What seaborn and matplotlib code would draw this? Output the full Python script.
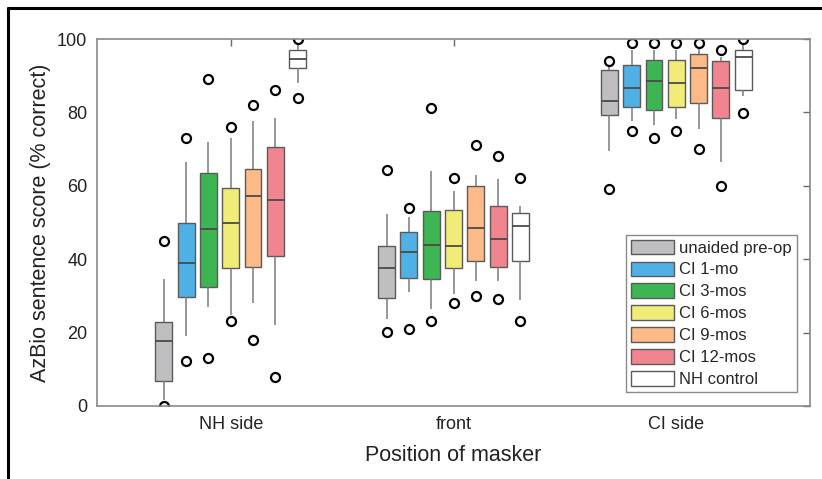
import numpy as np
import pandas as pd
import seaborn as sns
import matplotlib
matplotlib.use("Agg")
import matplotlib.pyplot as plt
from matplotlib.lines import Line2D

# ---------------- data ----------------
positions = ["NH side", "front", "CI side"]
groups = ["unaided pre-op", "CI 1-mo", "CI 3-mos", "CI 6-mos", "CI 9-mos", "CI 12-mos", "NH control"]
colors = ["#bfbfc1", "#4fb0e6", "#3db553", "#f1ec78", "#fbba88", "#f08590", "#ffffff"]

# per position, per group (order as in `groups`)
low_outlier = {
    "NH side": [0.0, 12.2, 13.0, 23.1, 18.0, 8.0, 84.0],
    "front":   [20.1, 21.0, 23.2, 28.1, 30.0, 29.1, 23.2],
    "CI side": [59.0, 75.0, 73.0, 75.0, 70.0, 60.0, 79.9],
}
whisker_low = {
    "NH side": [1.5, 19.2, 27.1, 24.8, 28.0, 22.1, 88.1],
    "front":   [23.6, 31.0, 26.5, 30.6, 34.1, 34.1, 29.0],
    "CI side": [69.6, 77.6, 76.6, 78.1, 75.5, 66.5, 84.6],
}
q1 = {
    "NH side": [6.7, 29.6, 32.5, 37.6, 37.9, 41.0, 92.0],
    "front":   [29.5, 35.0, 34.5, 37.6, 39.5, 38.0, 39.4],
    "CI side": [79.4, 81.5, 80.6, 81.4, 82.5, 78.5, 86.1],
}
median = {
    "NH side": [17.6, 39.0, 48.1, 50.0, 57.1, 56.0, 94.5],
    "front":   [37.6, 42.0, 44.0, 43.6, 48.6, 45.6, 49.1],
    "CI side": [83.1, 86.6, 88.5, 88.0, 92.0, 86.6, 95.2],
}
q3 = {
    "NH side": [23.0, 49.9, 63.5, 59.4, 64.5, 70.5, 97.0],
    "front":   [43.6, 47.5, 53.0, 53.5, 60.0, 54.5, 52.5],
    "CI side": [91.5, 93.0, 94.4, 94.4, 95.9, 93.9, 97.0],
}
whisker_high = {
    "NH side": [34.5, 66.4, 71.9, 72.9, 77.6, 78.5, 98.6],
    "front":   [52.4, 51.4, 64.0, 58.5, 62.9, 61.9, 54.5],
    "CI side": [92.3, 97.0, 97.0, 97.0, 97.2, 95.2, 98.6],
}
high_outlier = {
    "NH side": [45.0, 73.0, 89.0, 76.0, 82.1, 86.0, 100.0],
    "front":   [64.2, 53.9, 81.1, 62.0, 71.0, 68.0, 62.0],
    "CI side": [94.1, 99.0, 99.0, 99.0, 99.0, 97.0, 100.0],
}

# Build a minimal sample per box whose percentile statistics reproduce the
# read-off values (quartiles at 25/50/75, whiskers at 10/90 percentile,
# extremes drawn as circles).
rows = []
for p in positions:
    for i, g in enumerate(groups):
        sample = [low_outlier[p][i], whisker_low[p][i], q1[p][i], q1[p][i],
                  median[p][i], q3[p][i], q3[p][i], whisker_high[p][i],
                  high_outlier[p][i]]
        for v in sample:
            rows.append({"position": p, "group": g, "score": v})
df = pd.DataFrame(rows)

# ---------------- plotting ----------------
sns.set_theme(style="white")
plt.rcParams["font.family"] = ["Liberation Sans", "DejaVu Sans"]
plt.rcParams["axes.edgecolor"] = "#8a8a8a"
plt.rcParams["axes.linewidth"] = 1.2

fig = plt.figure(figsize=(8.22, 4.79), dpi=100)
ax = fig.add_axes([97 / 822, 1 - 406 / 479, (810 - 97) / 822, (406 - 39) / 479])

sns.boxplot(
    data=df, x="position", y="score", hue="group",
    order=positions, hue_order=groups, palette=colors,
    whis=(10, 90), width=0.7, gap=0.24, showcaps=False,
    linecolor="#5a5a5a", linewidth=1.0,
    flierprops=dict(marker="o", markersize=6.5, markerfacecolor="white",
                    markeredgecolor="black", markeredgewidth=1.6),
    whiskerprops=dict(color="#7a7a7a", linewidth=1.1),
    medianprops=dict(color="#4a4a4a", linewidth=1.3),
    saturation=1, ax=ax,
)

ax.set_xlim(-0.6, 2.6)
ax.set_ylim(0, 100)
ax.set_yticks([0, 20, 40, 60, 80, 100])
ax.tick_params(axis="both", direction="in", length=5, width=1, color="#6a6a6a",
               labelsize=13, labelcolor="#222222", top=True, right=True, pad=7)
ax.set_xlabel("Position of masker", fontsize=15.5, color="#222222", labelpad=9)
ax.set_ylabel("AzBio sentence score (% correct)", fontsize=15.5, color="#222222", labelpad=4)
for s in ax.spines.values():
    s.set_visible(True)

leg = ax.legend(loc="lower right", bbox_to_anchor=(0.9818, 0.038), borderaxespad=0,
                fontsize=12, frameon=True, fancybox=False, framealpha=1,
                edgecolor="#8a8a8a", handlelength=2.6, handleheight=0.95,
                labelspacing=0.36, handletextpad=0.3, borderpad=0.3)
leg.get_frame().set_linewidth(1.0)
for h in leg.legend_handles:
    h.set_edgecolor("#5a5a5a")

# figure frame lines (top and left)
fig.add_artist(Line2D([8 / 822, 1.0], [1 - 8 / 479, 1 - 8 / 479], color="black", linewidth=2.2,
                      transform=fig.transFigure))
fig.add_artist(Line2D([8 / 822, 8 / 822], [0.0, 1 - 8 / 479], color="black", linewidth=2.2,
                      transform=fig.transFigure))

fig.savefig("out.png", dpi=100)
